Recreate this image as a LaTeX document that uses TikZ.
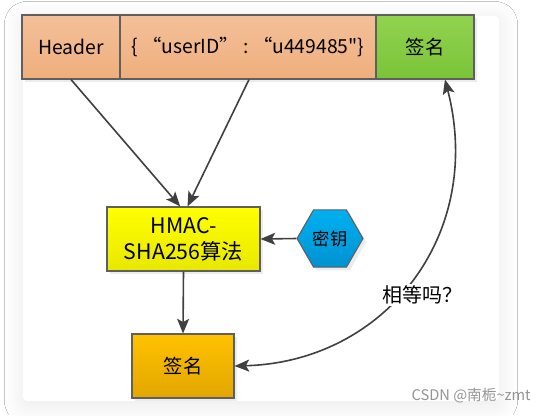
\documentclass[tikz,border=0pt]{standalone}
\usepackage{fontspec}
\setmainfont{Noto Sans CJK SC}[Ligatures=TeXOff]
\usetikzlibrary{shapes.geometric,arrows.meta,shadows,shadows.blur}
\definecolor{linec}{HTML}{404040}
\definecolor{bordc}{HTML}{5F5F5F}
\begin{document}
\begin{tikzpicture}[x=0.75pt,y=-0.75pt,
  box/.style={draw=bordc,line width=0.8pt,inner sep=0pt,
    font=\fontsize{14.5}{17}\selectfont,
    drop shadow={opacity=0.15,shadow xshift=2.5pt,shadow yshift=-2.5pt}},
  arr/.style={draw=linec,line width=1.2pt,-{Stealth[length=11pt,width=9pt,inset=2.5pt]}},
  arrboth/.style={draw=linec,line width=1.2pt,{Stealth[length=11pt,width=9pt,inset=2.5pt]}-{Stealth[length=11pt,width=9pt,inset=2.5pt]}}
]
\useasboundingbox (0,0) rectangle (546,415);
\fill[white] (0,0) rectangle (546,415);
\fill[white,rounded corners=3pt,blur shadow={shadow blur steps=16,shadow xshift=0pt,shadow yshift=-3pt,shadow blur radius=14pt,shadow opacity=9}] (23,16) rectangle (499,401);

\node[box,top color={rgb,255:red,244;green,192;blue,153},bottom color={rgb,255:red,239;green,174;blue,124},
  minimum width=73.5pt,minimum height=48pt] (header) at (71,47) {Header};
\node[box,top color={rgb,255:red,244;green,192;blue,153},bottom color={rgb,255:red,239;green,174;blue,124},
  minimum width=192pt,minimum height=48pt] (payload) at (248,47) {\{ “userID” : “u449485"\}};
\node[box,top color={rgb,255:red,146;green,210;blue,80},bottom color={rgb,255:red,122;green,196;blue,56},
  minimum width=73.5pt,minimum height=48pt] (sigA) at (425,47) {签名};

\node[box,top color={rgb,255:red,255;green,255;blue,0},bottom color={rgb,255:red,232;green,232;blue,0},
  minimum width=114.75pt,minimum height=48pt,align=center,font=\fontsize{16}{19.5}\selectfont] (hmac) at (183.5,239) {HMAC-\\SHA256算法};
\node[box,regular polygon,regular polygon sides=6,minimum size=49.5pt,
  top color={rgb,255:red,0;green,176;blue,240},bottom color={rgb,255:red,0;green,146;blue,210},
  font=\fontsize{13}{15}\selectfont] (key) at (330,238.5) {密钥};
\node[box,top color={rgb,255:red,255;green,194;blue,0},bottom color={rgb,255:red,226;green,166;blue,0},
  minimum width=76.5pt,minimum height=48pt] (sigB) at (183,366) {签名};

\draw[arr] (header.south) -- ([xshift=-2.5pt]hmac.north);
\draw[arr] ([xshift=0.75pt]payload.south) -- ([xshift=3pt]hmac.north);
\draw[arr] (key.west) -- (hmac.east);
\draw[arr] (hmac.south) -- (sigB.north);
\draw[arrboth] (sigB.east) .. controls (385,362) and (485,235) .. ([xshift=15pt]sigA.south);
\node[fill=white,inner sep=1pt,font=\fontsize{15}{17}\selectfont] (eq) at (422,295) {相等吗？};

\node[anchor=east,text=black!42,font=\fontsize{11}{12}\selectfont,inner sep=0pt] (wm) at (531,396) {CSDN @南栀\textasciitilde zmt};
\end{tikzpicture}
\end{document}
